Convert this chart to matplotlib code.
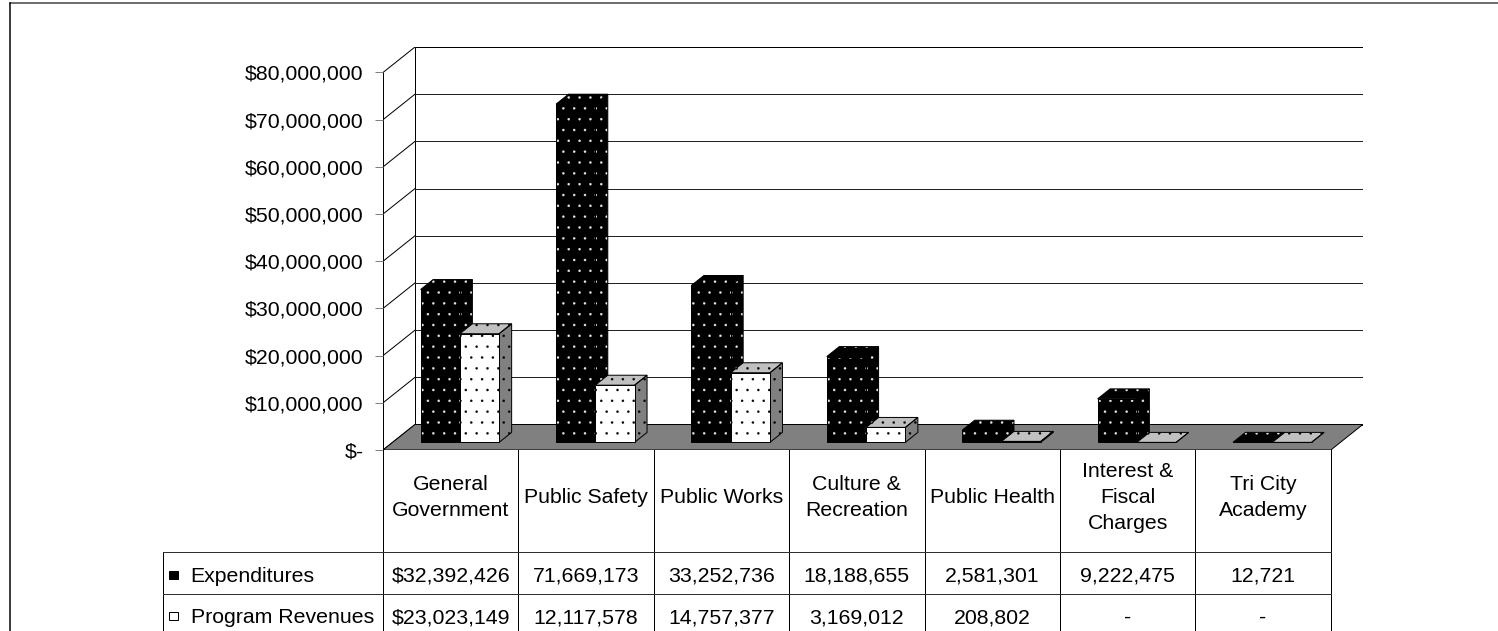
import numpy as np
import matplotlib.pyplot as plt
from matplotlib.patches import Polygon, Rectangle
from matplotlib.ticker import FuncFormatter

plt.rcParams['font.family'] = ['Liberation Sans', 'DejaVu Sans']
plt.rcParams['hatch.linewidth'] = 0.15

# data
categories = ['General\nGovernment', 'Public Safety', 'Public Works', 'Culture &\nRecreation',
              'Public Health', 'Interest &\nFiscal\nCharges', 'Tri City\nAcademy']
expenditures = [32392426, 71669173, 33252736, 18188655, 2581301, 9222475, 12721]
revenues = [23023149, 12117578, 14757377, 3169012, 208802, 0, 0]
series_names = ['Expenditures', 'Program Revenues']
y_ticks = [0, 10e6, 20e6, 30e6, 40e6, 50e6, 60e6, 70e6, 80e6]

# figure in pixels
DPI = 130
W, H = 1498, 631
def pt(px):
    return px * 72 / DPI

FS = pt(21.3)
LW = pt(1)

fig = plt.figure(figsize=(W / DPI, H / DPI), dpi=DPI)

# fake 3d geometry
n = len(categories)
X0, CW = 383, 135.4          # left edge of plot / column width in px
Y0, YTOP = 450, 47           # floor front / back wall top in px
ymax = 80e6
depth_x = 32 / CW            # floor depth in category units
depth_y = 25.5 / 47.19 * 10e6  # floor depth in value units
d0, d1 = 0.30, 0.69          # bar front/back as fraction of floor depth
bar_w = 0.29
bar_x0 = 0.207

ax = fig.add_axes([X0 / W, (H - Y0) / H, (n + depth_x) * CW / W, (Y0 - YTOP) / H])
ax.set_xlim(0, n + depth_x)
ax.set_ylim(0, ymax + depth_y)
ax.patch.set_visible(False)
for s in ['top', 'right', 'bottom']:
    ax.spines[s].set_visible(False)
ax.spines['left'].set_bounds(0, ymax)
ax.spines['left'].set_linewidth(LW)
ax.spines['left'].set_zorder(0.5)
ax.set_xticks([])
ax.set_yticks(y_ticks)
ax.yaxis.set_major_formatter(FuncFormatter(lambda v, p: '$-' if v == 0 else '${:,.0f}'.format(v)))
ax.tick_params(axis='y', length=pt(8), width=LW, color='#808080', pad=pt(11.5), labelsize=FS)

# back wall, side wall lines, floor
ax.add_patch(Rectangle((depth_x, depth_y), n, ymax, facecolor='white', edgecolor='black', lw=LW, zorder=0.2))
for v in y_ticks:
    ax.plot([0, depth_x], [v, v + depth_y], color='black', lw=LW, zorder=0.4)
for v in y_ticks[1:-1]:
    ax.plot([depth_x, n + depth_x], [v + depth_y, v + depth_y], color='#222222', lw=LW, zorder=0.3)
ax.add_patch(Polygon([(0, 0), (n, 0), (n + depth_x, depth_y), (depth_x, depth_y)],
                     closed=True, facecolor='#808080', edgecolor='black', lw=LW, zorder=1))


def face(xy, fc, dot, z):
    ax.add_patch(Polygon(xy, closed=True, facecolor=fc, edgecolor=dot, hatch='..', lw=0, zorder=z))
    ax.add_patch(Polygon(xy, closed=True, fill=False, edgecolor='black', lw=LW, zorder=z + 0.01))


styles = [
    # front, front dots, top, top dots, side, side dots
    ('black', '#e8e8e8', 'black', '#e8e8e8', 'black', '#e8e8e8'),
    ('white', 'black', '#c0c0c0', 'black', '#808080', 'black'),
]
ox0, oy0 = d0 * depth_x, d0 * depth_y
ddx, ddy = (d1 - d0) * depth_x, (d1 - d0) * depth_y
xpos = np.arange(n)

for s, vals in enumerate([expenditures, revenues]):
    fc, fd, tc, td, sc, sd = styles[s]
    lefts = xpos + bar_x0 + s * bar_w + ox0
    fronts = ax.bar(lefts, vals, width=bar_w, bottom=oy0, align='edge',
                    color=fc, edgecolor=fd, hatch='..', linewidth=0)
    outlines = ax.bar(lefts, vals, width=bar_w, bottom=oy0, align='edge',
                      fill=False, edgecolor='black', linewidth=LW)
    for i, (fr, ol) in enumerate(zip(fronts, outlines)):
        z = 3 + 2 * i + s
        fr.set_zorder(z + 0.5)
        ol.set_zorder(z + 0.51)
        x1, x2 = lefts[i], lefts[i] + bar_w
        yb, yt = oy0, oy0 + vals[i]
        face([(x1, yt), (x2, yt), (x2 + ddx, yt + ddy), (x1 + ddx, yt + ddy)], tc, td, z)
        face([(x2, yb), (x2 + ddx, yb + ddy), (x2 + ddx, yt + ddy), (x2, yt)], sc, sd, z)

# overlay in pixel coordinates for the data table and border
tab = fig.add_axes([0, 0, 1, 1])
tab.set_xlim(0, W)
tab.set_ylim(H, 0)
tab.axis('off')

tab.plot([9.5, W], [3, 3], color='#404040', lw=pt(1.5))
tab.plot([9.5, 9.5], [3, H], color='black', lw=pt(1.5))

right = X0 + n * CW
row_top = [552.3, 594.3]
for k in range(n + 1):
    tab.plot([X0 + k * CW] * 2, [Y0, H + 5], color='black', lw=LW)
tab.plot([163, 163], [row_top[0], H + 5], color='black', lw=LW)
for y in row_top:
    tab.plot([163, right], [y, y], color='#303030', lw=LW)

for k, cat in enumerate(categories):
    tab.text(X0 + (k + 0.5) * CW, 497.5, cat, ha='center', va='center', multialignment='center',
             fontsize=FS, linespacing=1.45)


def fmt(v, first):
    if v == 0:
        return '-'
    return ('$' if first else '') + '{:,}'.format(v)


baselines = [581.7, 623]
for r, vals in enumerate([expenditures, revenues]):
    for k, v in enumerate(vals):
        tab.text(X0 + (k + 0.5) * CW, baselines[r], fmt(v, k == 0), ha='center', va='baseline', fontsize=FS)
    tab.text(190.7, baselines[r], series_names[r], ha='left', va='baseline', fontsize=FS)

tab.add_patch(Rectangle((169, 570.5), 8.5, 8.5, facecolor='black', edgecolor='black', lw=LW))
tab.add_patch(Rectangle((169, 611.5), 8.5, 8.5, facecolor='white', edgecolor='black', lw=LW))

fig.savefig('out.png', dpi=DPI, facecolor='white')
